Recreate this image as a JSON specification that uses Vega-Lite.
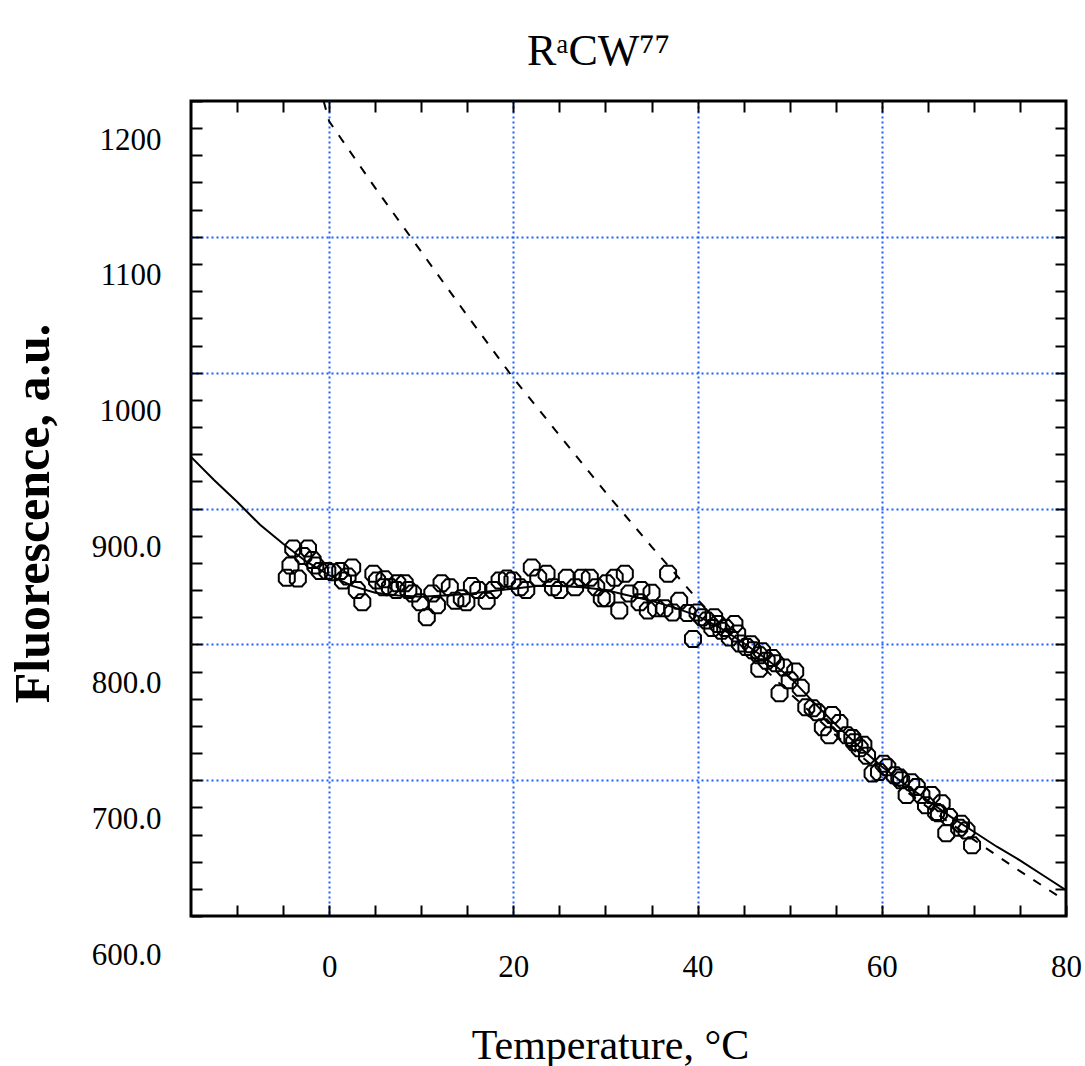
{
  "$schema": "https://vega.github.io/schema/vega-lite/v6.json",
  "autosize": "none",
  "width": 875,
  "height": 815,
  "padding": {"left": 191, "top": 101, "right": 19, "bottom": 150},
  "background": "white",
  "title": {"text": "RᵃCW⁷⁷", "font": "Liberation Serif", "fontSize": 44, "fontWeight": "normal", "color": "black", "anchor": "middle", "baseline": "alphabetic", "offset": 36, "dx": -30, "dy": 45},
  "config": {"view": {"stroke": "black", "strokeWidth": 3}},
  "datasets": {
    "pts": [
      {"T": -3.9, "F": 870.6}, {"T": -2.3, "F": 870.6}, {"T": -4.2, "F": 858}, {"T": -4.6, "F": 849}, {"T": -3.4, "F": 848.5},
      {"T": -2.8, "F": 865}, {"T": -1.8, "F": 862}, {"T": -1.5, "F": 858}, {"T": -1.0, "F": 854}, {"T": -0.2, "F": 854},
      {"T": 0.4, "F": 853}, {"T": 1.2, "F": 854}, {"T": 2.5, "F": 856.6}, {"T": 1.5, "F": 847}, {"T": 2.0, "F": 850},
      {"T": 3.0, "F": 840}, {"T": 3.6, "F": 831}, {"T": 4.8, "F": 852}, {"T": 5.2, "F": 847}, {"T": 5.9, "F": 842},
      {"T": 6.0, "F": 848}, {"T": 6.6, "F": 842}, {"T": 7.3, "F": 840}, {"T": 7.4, "F": 845}, {"T": 8.2, "F": 845},
      {"T": 8.6, "F": 840}, {"T": 9.1, "F": 837.5}, {"T": 9.9, "F": 831}, {"T": 10.6, "F": 820}, {"T": 11.2, "F": 837.5},
      {"T": 11.7, "F": 828.7}, {"T": 12.2, "F": 845}, {"T": 13.1, "F": 842}, {"T": 13.7, "F": 832}, {"T": 14.4, "F": 834},
      {"T": 14.9, "F": 831}, {"T": 15.5, "F": 843}, {"T": 16.2, "F": 840}, {"T": 17.1, "F": 832}, {"T": 17.8, "F": 840},
      {"T": 18.5, "F": 847}, {"T": 19.3, "F": 848.5}, {"T": 19.9, "F": 847}, {"T": 20.7, "F": 842}, {"T": 21.4, "F": 840},
      {"T": 22.0, "F": 856.6}, {"T": 22.7, "F": 849}, {"T": 23.6, "F": 852}, {"T": 24.3, "F": 842}, {"T": 25.0, "F": 840},
      {"T": 25.8, "F": 849}, {"T": 26.7, "F": 842}, {"T": 27.4, "F": 849}, {"T": 28.3, "F": 849}, {"T": 29.0, "F": 842},
      {"T": 29.6, "F": 834}, {"T": 30.1, "F": 845}, {"T": 31.0, "F": 849}, {"T": 32.1, "F": 852}, {"T": 30.1, "F": 834},
      {"T": 31.5, "F": 825}, {"T": 32.6, "F": 837.5}, {"T": 33.9, "F": 840}, {"T": 35.0, "F": 838}, {"T": 33.7, "F": 831},
      {"T": 34.6, "F": 825}, {"T": 35.5, "F": 826.5}, {"T": 36.4, "F": 826.5}, {"T": 36.8, "F": 852}, {"T": 37.3, "F": 823.5},
      {"T": 38.0, "F": 832}, {"T": 38.9, "F": 823}, {"T": 40.0, "F": 823.5}, {"T": 39.5, "F": 804}, {"T": 40.5, "F": 820},
      {"T": 41.0, "F": 817.6}, {"T": 41.8, "F": 820}, {"T": 41.6, "F": 812}, {"T": 42.2, "F": 815}, {"T": 42.6, "F": 810},
      {"T": 43.0, "F": 812}, {"T": 44.0, "F": 815}, {"T": 43.5, "F": 805}, {"T": 44.3, "F": 808}, {"T": 44.6, "F": 800.7},
      {"T": 45.3, "F": 798}, {"T": 45.8, "F": 800}, {"T": 46.0, "F": 795.6}, {"T": 46.7, "F": 792}, {"T": 47.0, "F": 795},
      {"T": 47.5, "F": 788}, {"T": 46.7, "F": 782}, {"T": 48.1, "F": 790}, {"T": 48.5, "F": 786}, {"T": 49.4, "F": 783},
      {"T": 50.0, "F": 773.5}, {"T": 48.9, "F": 764}, {"T": 50.6, "F": 780}, {"T": 51.2, "F": 768}, {"T": 51.8, "F": 753.7},
      {"T": 52.5, "F": 753}, {"T": 53.0, "F": 750}, {"T": 54.6, "F": 748}, {"T": 53.6, "F": 739}, {"T": 54.3, "F": 733},
      {"T": 55.4, "F": 742}, {"T": 56.2, "F": 733}, {"T": 56.8, "F": 731}, {"T": 57.0, "F": 728}, {"T": 57.6, "F": 723.5},
      {"T": 58.0, "F": 726}, {"T": 58.4, "F": 718}, {"T": 59.0, "F": 705}, {"T": 59.7, "F": 706}, {"T": 60.2, "F": 712},
      {"T": 60.6, "F": 709.6}, {"T": 61.4, "F": 703.7}, {"T": 61.9, "F": 702}, {"T": 62.1, "F": 700}, {"T": 63.2, "F": 698.5},
      {"T": 62.7, "F": 689}, {"T": 63.8, "F": 695}, {"T": 64.3, "F": 689}, {"T": 65.4, "F": 689}, {"T": 64.8, "F": 681.6},
      {"T": 65.9, "F": 676.5}, {"T": 66.2, "F": 675.7}, {"T": 66.5, "F": 683}, {"T": 67.3, "F": 672.8}, {"T": 67.0, "F": 661},
      {"T": 68.4, "F": 665}, {"T": 68.6, "F": 668}, {"T": 69.2, "F": 663}, {"T": 69.8, "F": 652}
    ],
    "fit": [
      {"T": -15, "F": 938}, {"T": -12.5, "F": 921}, {"T": -10, "F": 905}, {"T": -7.5, "F": 888}, {"T": -5, "F": 874},
      {"T": -2.5, "F": 861}, {"T": 0, "F": 851}, {"T": 2.5, "F": 843}, {"T": 5, "F": 838}, {"T": 7.5, "F": 836},
      {"T": 10, "F": 835}, {"T": 12.5, "F": 836}, {"T": 15, "F": 837}, {"T": 17.5, "F": 839}, {"T": 20, "F": 841},
      {"T": 22.5, "F": 843}, {"T": 25, "F": 843}, {"T": 27.5, "F": 842}, {"T": 30, "F": 840}, {"T": 32.5, "F": 836},
      {"T": 35, "F": 832}, {"T": 37.5, "F": 827}, {"T": 40, "F": 821}, {"T": 42.5, "F": 812}, {"T": 45, "F": 801},
      {"T": 47.5, "F": 789}, {"T": 50, "F": 776}, {"T": 52.5, "F": 758}, {"T": 55, "F": 741}, {"T": 57.5, "F": 725},
      {"T": 60, "F": 710}, {"T": 62.5, "F": 697}, {"T": 65, "F": 685}, {"T": 67.5, "F": 673}, {"T": 70, "F": 662},
      {"T": 72.5, "F": 651}, {"T": 75, "F": 641}, {"T": 77.5, "F": 630}, {"T": 80, "F": 619}
    ],
    "base": [
      {"T": -0.6, "F": 1200}, {"T": 0, "F": 1185}, {"T": 5, "F": 1136}, {"T": 10, "F": 1089}, {"T": 15, "F": 1042},
      {"T": 20, "F": 996}, {"T": 25, "F": 954}, {"T": 30, "F": 912}, {"T": 35, "F": 872}, {"T": 40, "F": 833},
      {"T": 45, "F": 797}, {"T": 50, "F": 764}, {"T": 55, "F": 733}, {"T": 60, "F": 705}, {"T": 65, "F": 680},
      {"T": 70, "F": 656}, {"T": 75, "F": 633}, {"T": 80, "F": 611}
    ]
  },
  "resolve": {"axis": {"x": "independent", "y": "independent"}},
  "layer": [
    {
      "data": {"name": "base"},
      "mark": {"type": "line", "color": "black", "strokeWidth": 2, "strokeDash": [9, 10], "clip": true},
      "encoding": {
        "x": {"field": "T", "type": "quantitative", "scale": {"domain": [-15, 80], "nice": false, "zero": false},
          "axis": {"orient": "top", "values": [-10, -5, 0, 5, 10, 15, 20, 25, 30, 35, 40, 45, 50, 55, 60, 65, 70, 75],
            "labels": false, "title": null, "domain": false, "grid": false, "tickSize": -11, "tickWidth": 2, "tickColor": "black"}},
        "y": {"field": "F", "type": "quantitative", "scale": {"domain": [600, 1200], "nice": false, "zero": false},
          "axis": {"orient": "right", "values": [620, 640, 660, 680, 700, 720, 740, 760, 780, 800, 820, 840, 860, 880, 900, 920, 940, 960, 980, 1000, 1020, 1040, 1060, 1080, 1100, 1120, 1140, 1160, 1180],
            "labels": false, "title": null, "domain": false, "grid": false, "tickSize": -11, "tickWidth": 2, "tickColor": "black"}}
      }
    },
    {
      "data": {"name": "fit"},
      "mark": {"type": "line", "color": "black", "strokeWidth": 2, "clip": true},
      "encoding": {
        "x": {"field": "T", "type": "quantitative", "axis": null},
        "y": {"field": "F", "type": "quantitative", "axis": null}
      }
    },
    {
      "data": {"name": "pts"},
      "mark": {"type": "point", "shape": "M-0.5,-1L0.5,-1L1,-0.45L1,0.45L0.5,1L-0.5,1L-1,0.45L-1,-0.45Z", "filled": false, "stroke": "black", "strokeWidth": 2, "size": 256, "opacity": 1},
      "encoding": {
        "x": {"field": "T", "type": "quantitative",
          "axis": {"orient": "bottom", "values": [-10, -5, 0, 5, 10, 15, 20, 25, 30, 35, 40, 45, 50, 55, 60, 65, 70, 75, 80],
            "labelExpr": "datum.value >= 0 && datum.value % 20 === 0 ? datum.label : ''",
            "labelFont": "Liberation Serif", "labelFontSize": 31, "labelColor": "black", "labelPadding": 47,
            "labelFlush": false, "labelOverlap": false, "labelBound": false,
            "domain": false, "tickSize": -11, "tickWidth": 2, "tickColor": "black",
            "grid": true, "gridColor": "#1f5fff", "gridWidth": 2, "gridDash": [2, 3],
            "gridOpacity": {"condition": {"test": "datum.value % 20 === 0 && datum.value > -15 && datum.value < 80", "value": 1}, "value": 0},
            "title": "Temperature, °C", "titleFont": "Liberation Serif", "titleFontSize": 42, "titleFontWeight": "normal", "titleColor": "black",
            "titleBaseline": "alphabetic", "titleX": 419, "titleY": 142}},
        "y": {"field": "F", "type": "quantitative",
          "axis": {"orient": "left", "values": [600, 620, 640, 660, 680, 700, 720, 740, 760, 780, 800, 820, 840, 860, 880, 900, 920, 940, 960, 980, 1000, 1020, 1040, 1060, 1080, 1100, 1120, 1140, 1160, 1180, 1200],
            "labelExpr": "datum.value % 100 === 0 ? (datum.value >= 1000 ? format(datum.value, 'd') : format(datum.value, '.1f')) : ''",
            "labelFont": "Liberation Serif", "labelFontSize": 31, "labelColor": "black", "labelPadding": 41, "labelOffset": 39,
            "labelBaseline": "middle", "labelFlush": false, "labelOverlap": false, "labelBound": false,
            "domain": false, "tickSize": -11, "tickWidth": 2, "tickColor": "black",
            "grid": true, "gridColor": "#1f5fff", "gridWidth": 2, "gridDash": [2, 3],
            "gridOpacity": {"condition": {"test": "datum.value % 100 === 0 && datum.value > 600 && datum.value < 1200", "value": 1}, "value": 0},
            "title": "Fluorescence, a.u.", "titleFont": "Liberation Serif", "titleFontSize": 50, "titleFontWeight": "bold", "titleColor": "black",
            "titleBaseline": "alphabetic", "titleX": -143, "titleY": 412, "titleAngle": -90}}
      }
    }
  ]
}
